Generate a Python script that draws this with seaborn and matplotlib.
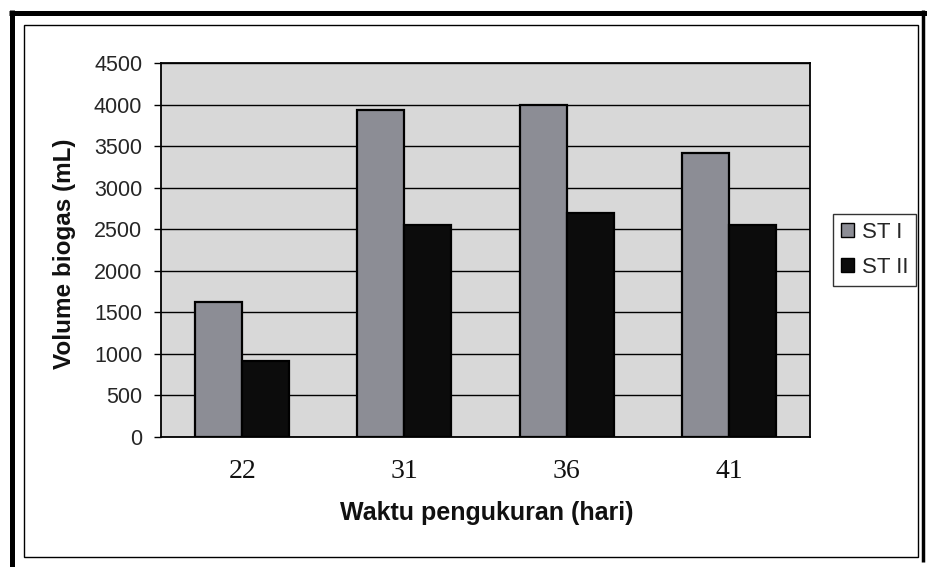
import matplotlib
matplotlib.use("Agg")
import matplotlib.pyplot as plt
from matplotlib.lines import Line2D
from matplotlib.patches import Rectangle, Patch
import seaborn as sns
import pandas as pd

# Measurement days and biogas volume per digester
days = ["22", "31", "36", "41"]
st1 = [1620, 3930, 4000, 3420]
st2 = [910, 2550, 2700, 2550]
series_names = ["ST I", "ST II"]
y_ticks = [0, 500, 1000, 1500, 2000, 2500, 3000, 3500, 4000, 4500]

df = pd.DataFrame({
    "hari": days * 2,
    "volume": st1 + st2,
    "seri": [series_names[0]] * len(days) + [series_names[1]] * len(days),
})

sns.set_style("white")
plt.rcParams["font.family"] = ["Liberation Sans", "DejaVu Sans"]

W, H = 927, 567
fig = plt.figure(figsize=(W / 100, H / 100), dpi=100)
fig.patch.set_facecolor("white")


def fx(x):
    return x / W


def fy(y):
    return 1 - y / H


ax = fig.add_axes([fx(161), fy(437), (810 - 161) / W, (437 - 63) / H])
ax.set_facecolor("#d8d8d8")

palette = {"ST I": "#8c8d95", "ST II": "#0c0c0c"}
sns.barplot(data=df, x="hari", y="volume", hue="seri", order=days,
            hue_order=series_names, palette=palette, width=0.58, gap=0,
            edgecolor="black", linewidth=1.6, saturation=1, ax=ax,
            legend=False, zorder=3)

ax.set_ylim(0, 4500)
ax.set_xlim(-0.5, 3.5)
ax.set_yticks(y_ticks)
ax.set_yticklabels([str(v) for v in y_ticks], fontsize=15.5, color="#262626")
ax.yaxis.grid(True, color="black", linewidth=1.0, zorder=1)
ax.set_axisbelow(True)

# category labels centred, tick marks on the category boundaries
ax.set_xticks(range(len(days)))
ax.set_xticklabels(days, fontsize=20, family=["Liberation Serif", "DejaVu Serif"],
                   color="#111111")
ax.set_xticks([i - 0.5 for i in range(len(days) + 1)], minor=True)
ax.tick_params(axis="x", which="major", length=0, pad=16)
ax.tick_params(axis="x", which="minor", length=6, width=1, color="black",
               direction="out")
ax.tick_params(axis="y", which="major", length=5, width=1, color="black",
               direction="out", left=True, pad=8.5)

for s in ax.spines.values():
    s.set_visible(True)
    s.set_color("black")
    s.set_linewidth(1.3)

ax.set_xlabel("")
ax.set_ylabel("")
fig.text(fx(487), fy(513), "Waktu pengukuran (hari)", fontsize=18,
         fontweight="bold", ha="center", va="center", color="#111111")
fig.text(fx(65), fy(254), "Volume biogas (mL)", fontsize=17.5,
         fontweight="bold", ha="center", va="center", rotation=90,
         color="#111111")

handles = [Patch(facecolor=palette[n], edgecolor="black", linewidth=1)
           for n in series_names]
leg = ax.legend(handles, series_names, loc="center left",
                bbox_to_anchor=(fx(833), fy(250)),
                bbox_transform=fig.transFigure, frameon=True, fancybox=False,
                edgecolor="black", fontsize=16, handlelength=0.6,
                handleheight=0.6, handletextpad=0.35, labelspacing=0.65,
                borderpad=0.35, borderaxespad=0)
leg.get_frame().set_linewidth(1.0)

# page frame: heavy outer border and thin chart border
fig.add_artist(Line2D([fx(9), fx(927)], [fy(12.5), fy(12.5)], color="black",
                      linewidth=3.6, solid_capstyle="butt"))
fig.add_artist(Line2D([fx(11.5), fx(11.5)], [fy(10), fy(567)], color="black",
                      linewidth=3.6, solid_capstyle="butt"))
fig.add_artist(Line2D([fx(923), fx(923)], [fy(10), fy(562)], color="black",
                      linewidth=2.5, solid_capstyle="butt"))
fig.add_artist(Rectangle((fx(24), fy(557)), fx(918) - fx(24), fy(25) - fy(557),
                         transform=fig.transFigure, fill=False,
                         edgecolor="black", linewidth=1.0))

fig.savefig("out.png", dpi=100)
